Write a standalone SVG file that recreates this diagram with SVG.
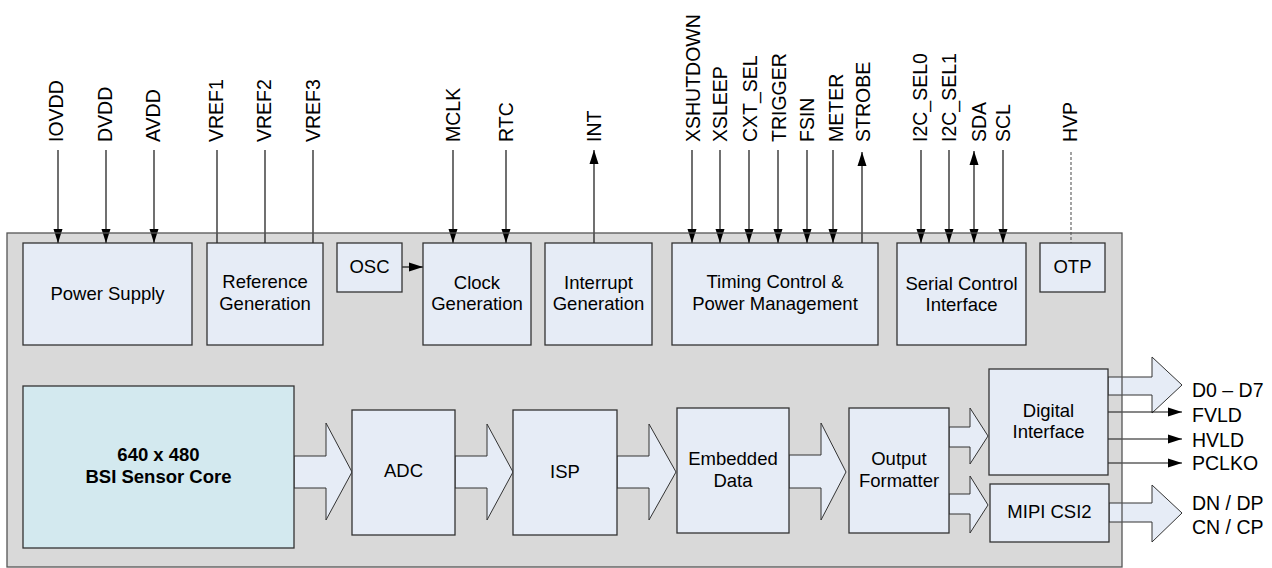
<svg xmlns="http://www.w3.org/2000/svg" width="1272" height="568" viewBox="0 0 1272 568">
<defs>
<style>
text{font-family:"Liberation Sans",Arial,sans-serif;fill:#000}
.pin{font-size:19.5px}
.blk{font-size:18.5px;text-anchor:middle}
.bold{font-weight:bold}
.out{font-size:19.5px}
.box{fill:#e6ecf6;stroke:#333;stroke-width:1.3}
.core{fill:#d3e9ef;stroke:#333;stroke-width:1.3}
.fat{fill:#e6ecf6;stroke:#333;stroke-width:1}
.w{stroke:#111;stroke-width:1.2;fill:none}
.a{marker-end:url(#ah)}
.dash{stroke:#666;stroke-width:1.2;stroke-dasharray:3 2;fill:none}
</style>
<marker id="ah" markerUnits="userSpaceOnUse" markerWidth="14" markerHeight="10" refX="14" refY="5" orient="auto-start-reverse" viewBox="0 0 14 10">
<path d="M0,0.5 L14,5 L0,9.5 Z" fill="#000"/>
</marker>
</defs>

<g id="chip">
<rect x="7" y="233" width="1115" height="334" fill="#d9d9d9"/>
</g>

<g id="connectors">
<!-- power pins -->
<line class="w a" x1="58" y1="150" x2="58" y2="243"/>
<line class="w a" x1="106" y1="150" x2="106" y2="243"/>
<line class="w a" x1="154" y1="150" x2="154" y2="243"/>
<line class="w" x1="217" y1="150" x2="217" y2="243"/>
<line class="w" x1="265" y1="150" x2="265" y2="243"/>
<line class="w" x1="313" y1="150" x2="313" y2="243"/>
<line class="w a" x1="402" y1="267" x2="423" y2="267"/>
<line class="w a" x1="453" y1="150" x2="453" y2="243"/>
<line class="w a" x1="506" y1="150" x2="506" y2="243"/>
<line class="w a" x1="594" y1="243" x2="594" y2="150"/>
<line class="w a" x1="692" y1="150" x2="692" y2="243"/>
<line class="w a" x1="720" y1="150" x2="720" y2="243"/>
<line class="w a" x1="749" y1="150" x2="749" y2="243"/>
<line class="w a" x1="778" y1="150" x2="778" y2="243"/>
<line class="w a" x1="807" y1="150" x2="807" y2="243"/>
<line class="w a" x1="833" y1="150" x2="833" y2="243"/>
<line class="w a" x1="862" y1="243" x2="862" y2="152"/>
<line class="w a" x1="921" y1="150" x2="921" y2="243"/>
<line class="w a" x1="949" y1="150" x2="949" y2="243"/>
<line class="w a" x1="974" y1="151" x2="974" y2="243" marker-start="url(#ah)"/>
<line class="w a" x1="1003" y1="150" x2="1003" y2="243"/>
<line class="dash" x1="1071" y1="152" x2="1071" y2="243"/>
<!-- data path -->
<path class="fat" d="M294,456 H326 V423 L352,472 L326,520 V488 H294 Z"/>
<path class="fat" d="M455,456 H487 V424 L513,472 L487,520 V488 H455 Z"/>
<path class="fat" d="M617,456 H649 V424 L676,472 L649,520 V488 H617 Z"/>
<path class="fat" d="M789,455 H821 V423 L846,472 L821,520 V488 H789 Z"/>
<path class="fat" d="M949,427 H970 V408 L988,436 L970,464 V447 H949 Z"/>
<path class="fat" d="M949,494 H970 V476 L988,505 L970,533 V514 H949 Z"/>
<path class="fat" d="M1108,377 H1152 V357 L1182,385 L1152,413 V395 H1108 Z"/>
<path class="fat" d="M1109,503 H1152 V485 L1182,513 L1152,542 V522 H1109 Z"/>
<line class="w a" x1="1108" y1="412" x2="1182" y2="412"/>
<line class="w a" x1="1108" y1="439" x2="1182" y2="439"/>
<line class="w a" x1="1108" y1="463" x2="1182" y2="463"/>
</g>

<g id="chip-border">
<rect x="7" y="233" width="1115" height="334" fill="none" stroke="#555" stroke-width="1.3"/>
</g>

<g id="pins">
<text class="pin" transform="translate(63,142) rotate(-90)">IOVDD</text>
<text class="pin" transform="translate(112,142) rotate(-90)">DVDD</text>
<text class="pin" transform="translate(160,142) rotate(-90)">AVDD</text>
<text class="pin" transform="translate(223,142) rotate(-90)">VREF1</text>
<text class="pin" transform="translate(271,142) rotate(-90)">VREF2</text>
<text class="pin" transform="translate(320,142) rotate(-90)">VREF3</text>
<text class="pin" transform="translate(460,142) rotate(-90)">MCLK</text>
<text class="pin" transform="translate(513,142) rotate(-90)">RTC</text>
<text class="pin" transform="translate(601,142) rotate(-90)">INT</text>
<text class="pin" transform="translate(700,142) rotate(-90)">XSHUTDOWN</text>
<text class="pin" transform="translate(727,142) rotate(-90)">XSLEEP</text>
<text class="pin" transform="translate(757,142) rotate(-90)">CXT_SEL</text>
<text class="pin" transform="translate(786,142) rotate(-90)">TRIGGER</text>
<text class="pin" transform="translate(814,142) rotate(-90)">FSIN</text>
<text class="pin" transform="translate(843,142) rotate(-90)">METER</text>
<text class="pin" transform="translate(870,142) rotate(-90)">STROBE</text>
<text class="pin" transform="translate(927,142) rotate(-90)">I2C_SEL0</text>
<text class="pin" transform="translate(956,142) rotate(-90)">I2C_SEL1</text>
<text class="pin" transform="translate(986,142) rotate(-90)">SDA</text>
<text class="pin" transform="translate(1010,142) rotate(-90)">SCL</text>
<text class="pin" transform="translate(1077,142) rotate(-90)">HVP</text>
<text class="out" x="1192" y="397">D0 – D7</text>
<text class="out" x="1192" y="422">FVLD</text>
<text class="out" x="1192" y="447">HVLD</text>
<text class="out" x="1192" y="470">PCLKO</text>
<text class="out" x="1192" y="510">DN / DP</text>
<text class="out" x="1192" y="534">CN / CP</text>
</g>

<g id="power-supply">
<rect class="box" x="23" y="243" width="169" height="102"/>
<text class="blk" x="107.5" y="300">Power Supply</text>
</g>
<g id="reference-generation">
<rect class="box" x="207" y="243" width="116" height="102"/>
<text class="blk" x="265" y="288">Reference</text>
<text class="blk" x="265" y="310">Generation</text>
</g>
<g id="osc">
<rect class="box" x="337" y="243" width="65" height="49"/>
<text class="blk" x="369.5" y="273">OSC</text>
</g>
<g id="clock-generation">
<rect class="box" x="423" y="243" width="108" height="102"/>
<text class="blk" x="477" y="289">Clock</text>
<text class="blk" x="477" y="310">Generation</text>
</g>
<g id="interrupt-generation">
<rect class="box" x="545" y="243" width="107" height="102"/>
<text class="blk" x="598.5" y="289">Interrupt</text>
<text class="blk" x="598.5" y="310">Generation</text>
</g>
<g id="timing-control">
<rect class="box" x="672" y="243" width="206" height="102"/>
<text class="blk" x="775" y="288">Timing Control &amp;</text>
<text class="blk" x="775" y="310">Power Management</text>
</g>
<g id="serial-control">
<rect class="box" x="897" y="243" width="129" height="102"/>
<text class="blk" x="961.5" y="290">Serial Control</text>
<text class="blk" x="961.5" y="311">Interface</text>
</g>
<g id="otp">
<rect class="box" x="1040" y="243" width="65" height="49"/>
<text class="blk" x="1072.5" y="273">OTP</text>
</g>

<g id="sensor-core">
<rect class="core" x="23" y="386" width="271" height="162"/>
<text class="blk bold" x="158.5" y="461">640 x 480</text>
<text class="blk bold" x="158.5" y="483">BSI Sensor Core</text>
</g>
<g id="adc">
<rect class="box" x="352" y="410" width="103" height="125"/>
<text class="blk" x="403.5" y="477">ADC</text>
</g>
<g id="isp">
<rect class="box" x="513" y="410" width="104" height="125"/>
<text class="blk" x="565" y="478">ISP</text>
</g>
<g id="embedded-data">
<rect class="box" x="677" y="408" width="112" height="125"/>
<text class="blk" x="733" y="465">Embedded</text>
<text class="blk" x="733" y="487">Data</text>
</g>
<g id="output-formatter">
<rect class="box" x="849" y="408" width="100" height="125"/>
<text class="blk" x="899" y="465">Output</text>
<text class="blk" x="899" y="487">Formatter</text>
</g>
<g id="digital-interface">
<rect class="box" x="989" y="369" width="119" height="106"/>
<text class="blk" x="1048.5" y="417">Digital</text>
<text class="blk" x="1048.5" y="438">Interface</text>
</g>
<g id="mipi-csi2">
<rect class="box" x="990" y="484" width="119" height="58"/>
<text class="blk" x="1049.5" y="518">MIPI CSI2</text>
</g>
</svg>
